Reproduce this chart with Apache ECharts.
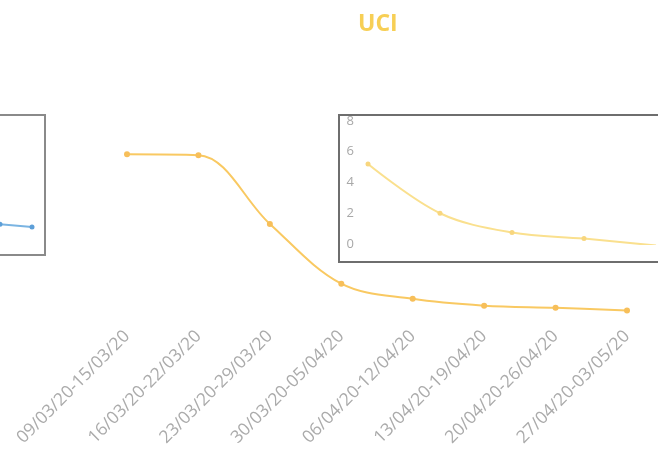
<!DOCTYPE html>
<html><head><meta charset="utf-8">
<script src="https://cdn.jsdelivr.net/npm/echarts@6/dist/echarts.min.js"></script>
<style>html,body{margin:0;padding:0;background:#fff}#c{width:658px;height:449px}</style>
</head><body><div id="c"></div>
<script>
const categories = ["09/03/20-15/03/20","16/03/20-22/03/20","23/03/20-29/03/20","30/03/20-05/04/20","06/04/20-12/04/20","13/04/20-19/04/20","20/04/20-26/04/20","27/04/20-03/05/20"];
const uciValues = [9.2, 9.15, 5.3, 1.95, 1.1, 0.72, 0.6, 0.45];
const insetCategories = ["a","b","c","d","e"];
const insetValues = [5.2, 2.0, 0.75, 0.35, -0.1];
const insetTicks = [0, 2, 4, 6, 8];
const leftCategories = ["p","q"];
const leftValues = [2.2, 2.0];

const chart = echarts.init(document.getElementById('c'));
const FONT = 'Open Sans';
chart.setOption({
  animation: false,
  backgroundColor: '#fff',
  title: { text: 'UCI', left: 353, top: 8, textStyle: { color: '#f7cf55', fontSize: 23, fontWeight: 'bold', fontFamily: FONT } },
  graphic: [
    { type: 'rect', shape: { x: -5, y: 115, width: 50, height: 140 }, style: { fill: 'none', stroke: '#8a8a8a', lineWidth: 2 } },
    { type: 'rect', shape: { x: 339, y: 115, width: 330, height: 147 }, style: { fill: 'none', stroke: '#6e6e6e', lineWidth: 2 } }
  ],
  grid: [
    { left: 127, right: 31, top: 140, bottom: 129 },
    { left: 368, right: 2, top: 121, bottom: 205 },
    { left: -40, width: 72, top: 115, bottom: 194 }
  ],
  xAxis: [
    { gridIndex: 0, type: 'category', data: categories, boundaryGap: false,
      axisLine: { show: false }, axisTick: { show: false },
      axisLabel: { rotate: 45, color: '#ababab', fontSize: 17.5, fontFamily: FONT, margin: 15, interval: 0 } },
    { gridIndex: 1, type: 'category', data: insetCategories, boundaryGap: false,
      axisLine: { show: false }, axisTick: { show: false }, axisLabel: { show: false } },
    { gridIndex: 2, type: 'category', data: leftCategories, boundaryGap: false,
      axisLine: { show: false }, axisTick: { show: false }, axisLabel: { show: false } }
  ],
  yAxis: [
    { gridIndex: 0, type: 'value', min: 0, max: 10, show: false },
    { gridIndex: 1, type: 'value', min: insetTicks[0], max: insetTicks[insetTicks.length-1], interval: 2,
      axisLine: { show: false }, axisTick: { show: false }, splitLine: { show: false },
      axisLabel: { color: '#a8a8a8', fontSize: 13, fontFamily: FONT, margin: 14 } },
    { gridIndex: 2, type: 'value', min: 0, max: 10, show: false }
  ],
  series: [
    { type: 'line', xAxisIndex: 0, yAxisIndex: 0, data: uciValues, smooth: 0.35,
      lineStyle: { color: '#f9c962', width: 2 }, itemStyle: { color: '#f7bf5a' },
      symbol: 'circle', symbolSize: 6 },
    { type: 'line', xAxisIndex: 1, yAxisIndex: 1, data: insetValues, smooth: 0.35,
      lineStyle: { color: '#fae08e', width: 2 }, itemStyle: { color: '#f8d67e' },
      symbol: 'circle', symbolSize: 5 },
    { type: 'line', xAxisIndex: 2, yAxisIndex: 2, data: leftValues,
      lineStyle: { color: '#7ab4e2', width: 2 }, itemStyle: { color: '#5d9fd8' },
      symbol: 'circle', symbolSize: 5 }
  ]
});
</script></body></html>
